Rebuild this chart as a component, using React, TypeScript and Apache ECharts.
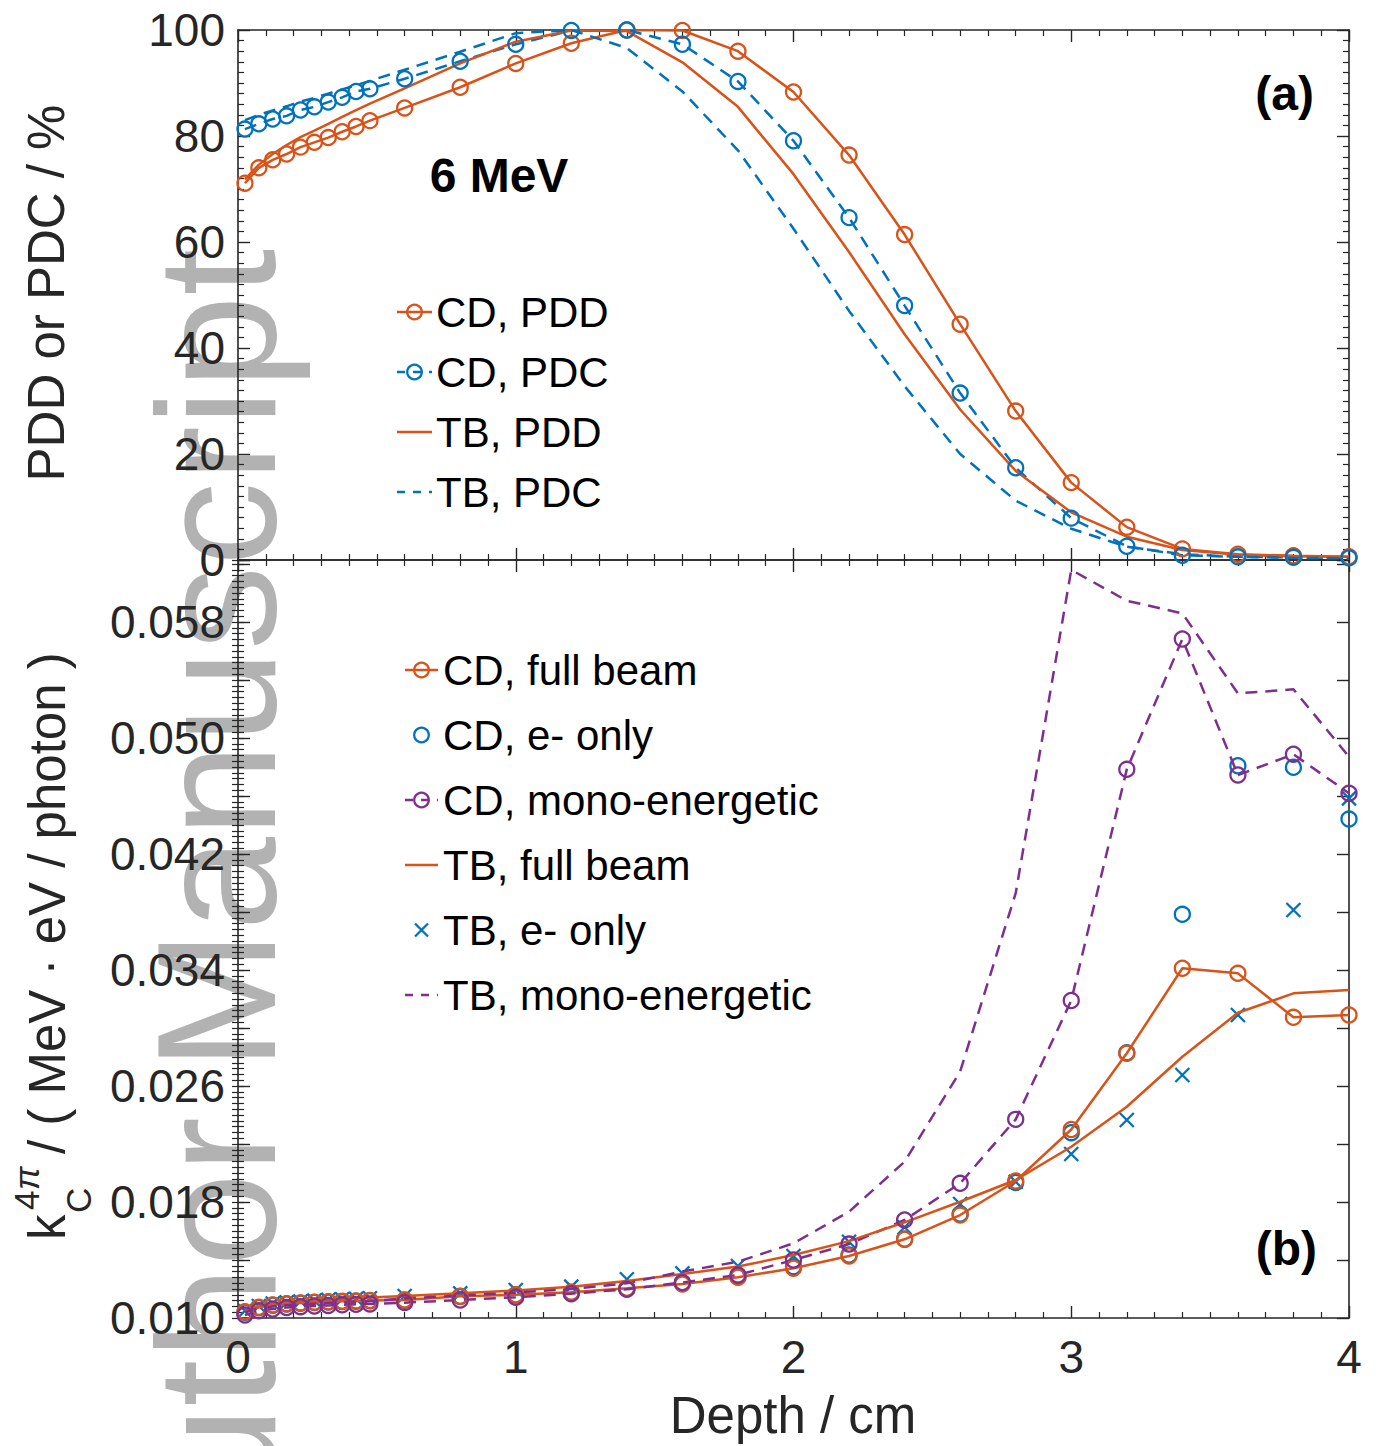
import React, { useEffect, useRef } from 'react';
import * as echarts from 'echarts';

// Depth grid (cm) shared by every curve
const depthCm = [
  0.025, 0.075, 0.125, 0.175, 0.225, 0.275, 0.325, 0.375, 0.425, 0.475,
  0.6, 0.8, 1.0, 1.2, 1.4, 1.6, 1.8, 2.0, 2.2, 2.4, 2.6, 2.8, 3.0, 3.2, 3.4, 3.6, 3.8, 4.0,
];

// Panel (a): depth dose / depth Cherenkov curves, %
const cdPdd = [71.1, 74.0, 75.5, 76.6, 77.9, 78.8, 79.7, 80.8, 81.8, 82.9, 85.3, 89.2, 93.7, 97.5, 100.0, 99.9, 96.0, 88.3, 76.4, 61.4, 44.5, 28.1, 14.6, 6.2, 2.1, 1.1, 0.8, 0.6];
const cdPdc = [81.3, 82.3, 83.2, 83.8, 84.9, 85.5, 86.4, 87.3, 88.4, 88.9, 90.8, 94.1, 97.3, 99.9, 100.0, 97.3, 90.3, 79.1, 64.6, 48.0, 31.5, 17.4, 7.9, 2.6, 0.9, 0.6, 0.5, 0.4];
const tbPdd = [71.8, 74.6, 76.6, 78.3, 79.8, 81.0, 82.3, 83.6, 84.9, 86.1, 89.0, 93.7, 97.8, 99.9, 99.8, 93.9, 85.5, 72.8, 58.1, 42.6, 28.4, 16.8, 9.0, 4.4, 1.9, 1.0, 0.7, 0.6];
const tbPdc = [83.0, 84.0, 84.8, 85.6, 86.5, 87.2, 88.0, 88.8, 89.6, 90.4, 92.5, 95.9, 99.4, 100.0, 96.6, 88.4, 77.3, 62.5, 47.0, 32.8, 20.0, 11.2, 5.9, 2.5, 1.1, 0.6, 0.4, 0.3];

// Panel (b): k_C^{4pi}, MeV·eV/photon
const cdFull = [0.01043, 0.01074, 0.0109, 0.01099, 0.01104, 0.01109, 0.01112, 0.01115, 0.01118, 0.01121, 0.01124, 0.0115, 0.0116, 0.01178, 0.01205, 0.01234, 0.01281, 0.01343, 0.01428, 0.01543, 0.0171, 0.01945, 0.023, 0.02826, 0.03412, 0.03377, 0.03074, 0.0309];
const cdEOnly = [0.0104, 0.01071, 0.01088, 0.01097, 0.01102, 0.01107, 0.0111, 0.01113, 0.01116, 0.01119, 0.01122, 0.01148, 0.01158, 0.01176, 0.01203, 0.01242, 0.01285, 0.01354, 0.01434, 0.01543, 0.01717, 0.01935, 0.02278, 0.0283, 0.03784, 0.04809, 0.04798, 0.04441];
const cdMono = [0.0102, 0.0105, 0.01062, 0.01072, 0.01078, 0.01083, 0.01087, 0.01091, 0.01094, 0.01097, 0.01106, 0.01124, 0.01143, 0.01168, 0.01198, 0.01245, 0.01297, 0.014, 0.0151, 0.01676, 0.01929, 0.0237, 0.0319, 0.04784, 0.05683, 0.04745, 0.04888, 0.04619];
const tbFull = [0.01055, 0.01085, 0.011, 0.0111, 0.01117, 0.01122, 0.01127, 0.01132, 0.01137, 0.01142, 0.01152, 0.0117, 0.0119, 0.01215, 0.01255, 0.01303, 0.01355, 0.01434, 0.0153, 0.0166, 0.01802, 0.01952, 0.02181, 0.02457, 0.02802, 0.03105, 0.03239, 0.03262];
const tbEOnly = [0.0105, 0.01083, 0.011, 0.01108, 0.01114, 0.0112, 0.01125, 0.01129, 0.01132, 0.01136, 0.01152, 0.0117, 0.01193, 0.01216, 0.01267, 0.01308, 0.01359, 0.01428, 0.01526, 0.01626, 0.01786, 0.0194, 0.02131, 0.02366, 0.02676, 0.0309, 0.03814, 0.04584];
const tbMono = [0.0104, 0.01068, 0.0108, 0.01088, 0.01094, 0.01099, 0.01104, 0.01108, 0.01112, 0.01116, 0.01135, 0.01155, 0.01175, 0.012, 0.0124, 0.0132, 0.01388, 0.01515, 0.01733, 0.02078, 0.027, 0.0393, 0.0616, 0.05947, 0.0586, 0.05308, 0.05336, 0.04871];

// Tick labels shown on the k axis
const kTickLabels = ['0.010', '0.018', '0.026', '0.034', '0.042', '0.050', '0.058'];

const legendA = ['CD, PDD', 'CD, PDC', 'TB, PDD', 'TB, PDC'];
const legendB = ['CD, full beam', 'CD, e- only', 'CD, mono-energetic', 'TB, full beam', 'TB, e- only', 'TB, mono-energetic'];

const ORANGE = '#D95319';
const BLUE = '#0072BD';
const PURPLE = '#7E2F8E';
const AXIS = '#262626';
const FONT = "'Liberation Sans', Arial, Helvetica, sans-serif";
const CLEAR = 'rgba(0,0,0,0)';
const CROSS = 'path://M0,0L10,10M10,0L0,10';

const pairs = (ys: number[]) => depthCm.map((d, i) => [d, ys[i]]);

const frameAxis = (extra: any) => ({
  type: 'value',
  axisLine: { show: true, onZero: false, lineStyle: { color: AXIS, width: 1.6 } },
  axisTick: { show: true, inside: true, length: 12, lineStyle: { color: AXIS, width: 1.4 } },
  minorTick: { show: true, splitNumber: 10, length: 6, lineStyle: { color: AXIS, width: 1.2 } },
  splitLine: { show: false },
  minorSplitLine: { show: false },
  axisLabel: { show: false },
  ...extra,
});

const tickLabel = (extra: any) => ({
  show: true,
  color: AXIS,
  fontSize: 46,
  fontFamily: FONT,
  ...extra,
});

const lineSeries = (name: string, ys: number[], color: string, opts: any) => ({
  name,
  type: 'line',
  data: pairs(ys),
  symbol: opts.marker ? 'circle' : 'none',
  symbolSize: 15,
  showSymbol: !!opts.marker,
  lineStyle: { color, width: 2.5, type: opts.dashed ? [12, 8] : 'solid' },
  itemStyle: { color: CLEAR, borderColor: color, borderWidth: 2.3 },
  xAxisIndex: opts.panel === 0 ? 0 : 2,
  yAxisIndex: opts.panel === 0 ? 0 : 2,
  silent: true,
  animation: false,
});

const markerSeries = (name: string, ys: number[], color: string, symbol: string, size: number) => ({
  name,
  type: 'scatter',
  data: pairs(ys),
  symbol,
  symbolSize: size,
  itemStyle: { color: CLEAR, borderColor: color, borderWidth: 2.3, opacity: 1 },
  xAxisIndex: 2,
  yAxisIndex: 2,
  silent: true,
});

// Legend rows drawn as graphic elements
type Glyph = { color: string; line?: 'solid' | 'dashed'; mark?: 'circle' | 'cross' };
const legendRow = (x0: number, x1: number, textX: number, yc: number, label: string, g: Glyph) => {
  const els: any[] = [];
  const mid = (x0 + x1) / 2;
  if (g.line) {
    els.push({
      type: 'line',
      shape: { x1: x0, y1: yc, x2: x1, y2: yc },
      style: { stroke: g.color, lineWidth: 2.5, lineDash: g.line === 'dashed' ? [8, 8] : null },
      z: 10,
    });
  }
  if (g.mark === 'circle') {
    els.push({ type: 'circle', shape: { cx: mid, cy: yc, r: 7.3 }, style: { fill: CLEAR, stroke: g.color, lineWidth: 2.3 }, z: 11 });
  }
  if (g.mark === 'cross') {
    const h = 6.5;
    els.push({ type: 'line', shape: { x1: mid - h, y1: yc - h, x2: mid + h, y2: yc + h }, style: { stroke: g.color, lineWidth: 2.3 }, z: 11 });
    els.push({ type: 'line', shape: { x1: mid - h, y1: yc + h, x2: mid + h, y2: yc - h }, style: { stroke: g.color, lineWidth: 2.3 }, z: 11 });
  }
  els.push({
    type: 'text',
    x: textX,
    y: yc,
    style: { text: label, fontSize: 42, fontFamily: FONT, fill: '#000', align: 'left', verticalAlign: 'middle' },
    z: 11,
  });
  return els;
};

const glyphsA: Glyph[] = [
  { color: ORANGE, line: 'solid', mark: 'circle' },
  { color: BLUE, line: 'dashed', mark: 'circle' },
  { color: ORANGE, line: 'solid' },
  { color: BLUE, line: 'dashed' },
];
const glyphsB: Glyph[] = [
  { color: ORANGE, line: 'solid', mark: 'circle' },
  { color: BLUE, mark: 'circle' },
  { color: PURPLE, line: 'dashed', mark: 'circle' },
  { color: ORANGE, line: 'solid' },
  { color: BLUE, mark: 'cross' },
  { color: PURPLE, line: 'dashed' },
];

const buildOption = () => {
  const graphics: any[] = [
    // watermark
    {
      type: 'text',
      x: 217,
      y: 1612,
      rotation: Math.PI / 2,
      z: -10,
      silent: true,
      style: { text: 'Author Manuscript', fontSize: 168, fontFamily: FONT, fill: '#b2b2b2', align: 'left', verticalAlign: 'middle' },
    },
    // panel (a) y title
    {
      type: 'text',
      x: 46,
      y: 293,
      rotation: Math.PI / 2,
      z: 10,
      style: { text: 'PDD or PDC / %', fontSize: 51, fontFamily: FONT, fill: AXIS, align: 'center', verticalAlign: 'middle' },
    },
    // panel (b) y title: k_C^{4π} / ( MeV · eV / photon )
    {
      type: 'group',
      x: 0,
      y: 942,
      rotation: Math.PI / 2,
      z: 10,
      children: [
        { type: 'text', x: -298, y: 47, style: { text: 'k', fontSize: 51, fontFamily: FONT, fill: AXIS, align: 'left', verticalAlign: 'middle' } },
        { type: 'text', x: -268, y: 26, style: { text: '4', fontSize: 35, fontFamily: FONT, fill: AXIS, align: 'left', verticalAlign: 'middle' } },
        { type: 'text', x: -248, y: 26, style: { text: 'π', fontSize: 35, fontStyle: 'italic', fontFamily: FONT, fill: AXIS, align: 'left', verticalAlign: 'middle' } },
        { type: 'text', x: -271, y: 78, style: { text: 'C', fontSize: 35, fontFamily: FONT, fill: AXIS, align: 'left', verticalAlign: 'middle' } },
        { type: 'text', x: -212, y: 47, style: { text: '/ ( MeV · eV / photon )', fontSize: 51, fontFamily: FONT, fill: AXIS, align: 'left', verticalAlign: 'middle' } },
      ],
    },
    // x title
    {
      type: 'text',
      x: 793,
      y: 1415,
      z: 10,
      style: { text: 'Depth / cm', fontSize: 51, fontFamily: FONT, fill: AXIS, align: 'center', verticalAlign: 'middle' },
    },
    {
      type: 'text',
      x: 499,
      y: 175,
      z: 10,
      style: { text: '6 MeV', fontSize: 48, fontWeight: 'bold', fontFamily: FONT, fill: '#000', align: 'center', verticalAlign: 'middle' },
    },
    {
      type: 'text',
      x: 1314,
      y: 93,
      z: 10,
      style: { text: '(a)', fontSize: 48, fontWeight: 'bold', fontFamily: FONT, fill: '#000', align: 'right', verticalAlign: 'middle' },
    },
    {
      type: 'text',
      x: 1317,
      y: 1248,
      z: 10,
      style: { text: '(b)', fontSize: 48, fontWeight: 'bold', fontFamily: FONT, fill: '#000', align: 'right', verticalAlign: 'middle' },
    },
  ];
  legendA.forEach((lab, i) => graphics.push(...legendRow(397, 432, 436, 312 + i * 60, lab, glyphsA[i])));
  legendB.forEach((lab, i) => graphics.push(...legendRow(405, 438, 443, 670 + i * 65, lab, glyphsB[i])));

  const kMin = 0.01;
  const kMax = 0.06228;

  return {
    animation: false,
    backgroundColor: '#ffffff',
    textStyle: { fontFamily: FONT },
    grid: [
      { left: 238, top: 30, width: 1111, height: 530 },
      { left: 238, top: 560, width: 1111, height: 758 },
    ],
    xAxis: [
      frameAxis({ gridIndex: 0, position: 'bottom', min: 0, max: 4, interval: 1 }),
      frameAxis({ gridIndex: 0, position: 'top', min: 0, max: 4, interval: 1 }),
      frameAxis({
        gridIndex: 1, position: 'bottom', min: 0, max: 4, interval: 1,
        axisLabel: tickLabel({ margin: 16 }),
      }),
      frameAxis({ gridIndex: 1, position: 'top', min: 0, max: 4, interval: 1 }),
    ],
    yAxis: [
      frameAxis({
        gridIndex: 0, position: 'left', min: 0, max: 100, interval: 20,
        axisLabel: tickLabel({ margin: 13 }),
      }),
      frameAxis({ gridIndex: 0, position: 'right', min: 0, max: 100, interval: 20 }),
      frameAxis({
        gridIndex: 1, position: 'left', min: kMin, max: kMax, interval: 0.004,
        minorTick: { show: false },
        axisLabel: tickLabel({
          margin: 13,
          formatter: (v: number) => {
            const s = v.toFixed(3);
            return kTickLabels.includes(s) && Math.abs(v - parseFloat(s)) < 1e-6 ? s : '';
          },
        }),
      }),
      frameAxis({ gridIndex: 1, position: 'right', min: kMin, max: kMax, interval: 0.004, minorTick: { show: false } }),
      // fine ticks for panel (b), left and right
      frameAxis({
        gridIndex: 1, position: 'left', min: kMin, max: kMax, interval: 0.0004,
        axisLine: { show: false }, minorTick: { show: false },
        axisTick: { show: true, inside: true, length: 6, lineStyle: { color: AXIS, width: 1.2 } },
      }),
      frameAxis({
        gridIndex: 1, position: 'right', min: kMin, max: kMax, interval: 0.0004,
        axisLine: { show: false }, minorTick: { show: false },
        axisTick: { show: true, inside: true, length: 6, lineStyle: { color: AXIS, width: 1.2 } },
      }),
    ],
    series: [
      lineSeries(legendA[0], cdPdd, ORANGE, { panel: 0, marker: true }),
      lineSeries(legendA[1], cdPdc, BLUE, { panel: 0, marker: true, dashed: true }),
      lineSeries(legendA[2], tbPdd, ORANGE, { panel: 0 }),
      lineSeries(legendA[3], tbPdc, BLUE, { panel: 0, dashed: true }),
      lineSeries(legendB[0], cdFull, ORANGE, { panel: 1, marker: true }),
      markerSeries(legendB[1], cdEOnly, BLUE, 'circle', 15),
      lineSeries(legendB[2], cdMono, PURPLE, { panel: 1, marker: true, dashed: true }),
      lineSeries(legendB[3], tbFull, ORANGE, { panel: 1 }),
      markerSeries(legendB[4], tbEOnly, BLUE, CROSS, 14),
      lineSeries(legendB[5], tbMono, PURPLE, { panel: 1, dashed: true }),
    ],
    graphic: graphics,
  };
};

export default function App() {
  const ref = useRef<HTMLDivElement>(null);
  useEffect(() => {
    if (!ref.current) return;
    const chart = echarts.init(ref.current, null, { renderer: 'svg' });
    chart.setOption(buildOption() as any);
    return () => chart.dispose();
  }, []);
  return (
    <div
      ref={ref}
      style={{ position: 'fixed', left: 0, top: 0, width: 1378, height: 1446, background: '#ffffff' }}
    />
  );
}
